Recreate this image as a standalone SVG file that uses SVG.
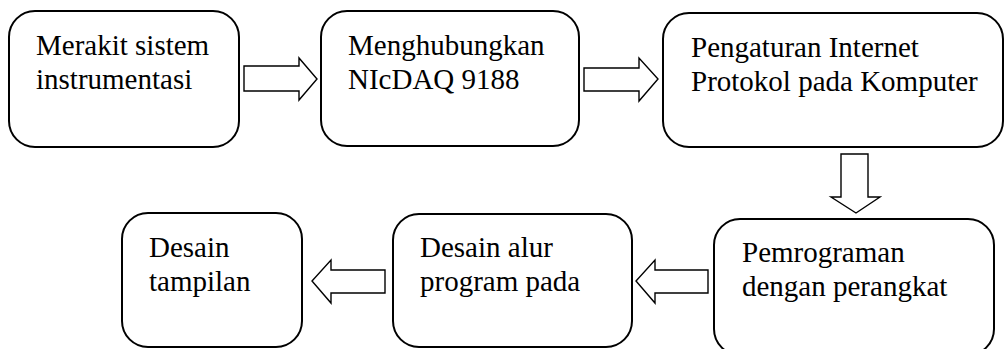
<svg xmlns="http://www.w3.org/2000/svg" width="1004" height="349" viewBox="0 0 1004 349">
<style>
.box{fill:#fff;stroke:#000;stroke-width:2}
.arr{fill:#fff;stroke:#000;stroke-width:1.4;stroke-linejoin:miter}
text{font-family:"Liberation Serif","Times New Roman",serif;font-size:29px;fill:#000}
</style>
<rect width="1004" height="349" fill="#fff"/>
<g id="n1"><rect class="box" x="9" y="11" width="230" height="136" rx="26"/><text x="36" y="55">Merakit sistem</text><text x="36" y="89">instrumentasi</text></g>
<g id="n2"><rect class="box" x="321" y="11" width="258" height="135" rx="26"/><text x="348" y="55">Menghubungkan</text><text x="348" y="89">NIcDAQ 9188</text></g>
<g id="n3"><rect class="box" x="663" y="13" width="340" height="134" rx="26"/><text x="691" y="57">Pengaturan Internet</text><text x="691" y="91">Protokol pada Komputer</text></g>
<g id="n4"><rect class="box" x="714" y="219" width="280" height="136" rx="26"/><text x="742" y="262">Pemrograman</text><text x="742" y="296">dengan perangkat</text></g>
<g id="n5"><rect class="box" x="393" y="214" width="239" height="133" rx="26"/><text x="420" y="257">Desain alur</text><text x="420" y="291">program pada</text></g>
<g id="n6"><rect class="box" x="122" y="213" width="180" height="134" rx="26"/><text x="149" y="257">Desain</text><text x="149" y="291">tampilan</text></g>
<g id="connectors">
<polygon class="arr" points="244,66 299,66 299,58 317,79 299,100 299,91 244,91"/>
<polygon class="arr" points="584,68 639,68 639,58 658,79 639,101 639,91 584,91"/>
<polygon class="arr" points="841,154 868,154 868,197 880,197 856,213 831,197 841,197"/>
<polygon class="arr" points="708,270 655,270 655,260 636,281 655,303 655,293 708,293"/>
<polygon class="arr" points="385,270 331,270 331,260 312,281 331,303 331,293 385,293"/>
</g>
</svg>
